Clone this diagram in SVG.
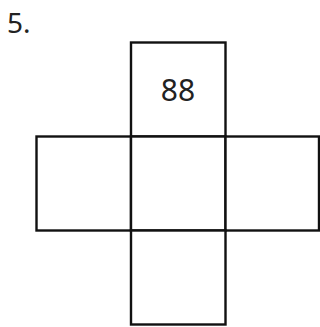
<svg xmlns="http://www.w3.org/2000/svg" width="320" height="327" viewBox="0 0 320 327">
<style>
.sq{fill:#fff;stroke:#111;stroke-width:2.4}
.t{font-family:"Noto Sans","DejaVu Sans",sans-serif;fill:#222}
</style>
<rect width="320" height="327" fill="#fff"/>
<text class="t" x="7" y="33" font-size="28">5.</text>
<g id="top"><rect class="sq" x="131" y="42.5" width="94.5" height="94"/><text class="t" x="178" y="100.5" font-size="30" text-anchor="middle">88</text></g>
<g id="left"><rect class="sq" x="36.5" y="136.5" width="94.5" height="94"/></g>
<g id="center"><rect class="sq" x="131" y="136.5" width="94.5" height="94"/></g>
<g id="right"><rect class="sq" x="225.5" y="136.5" width="93.5" height="94"/></g>
<g id="bottom"><rect class="sq" x="131" y="230.5" width="94.5" height="94"/></g>
<g id="connectors"></g>
</svg>
